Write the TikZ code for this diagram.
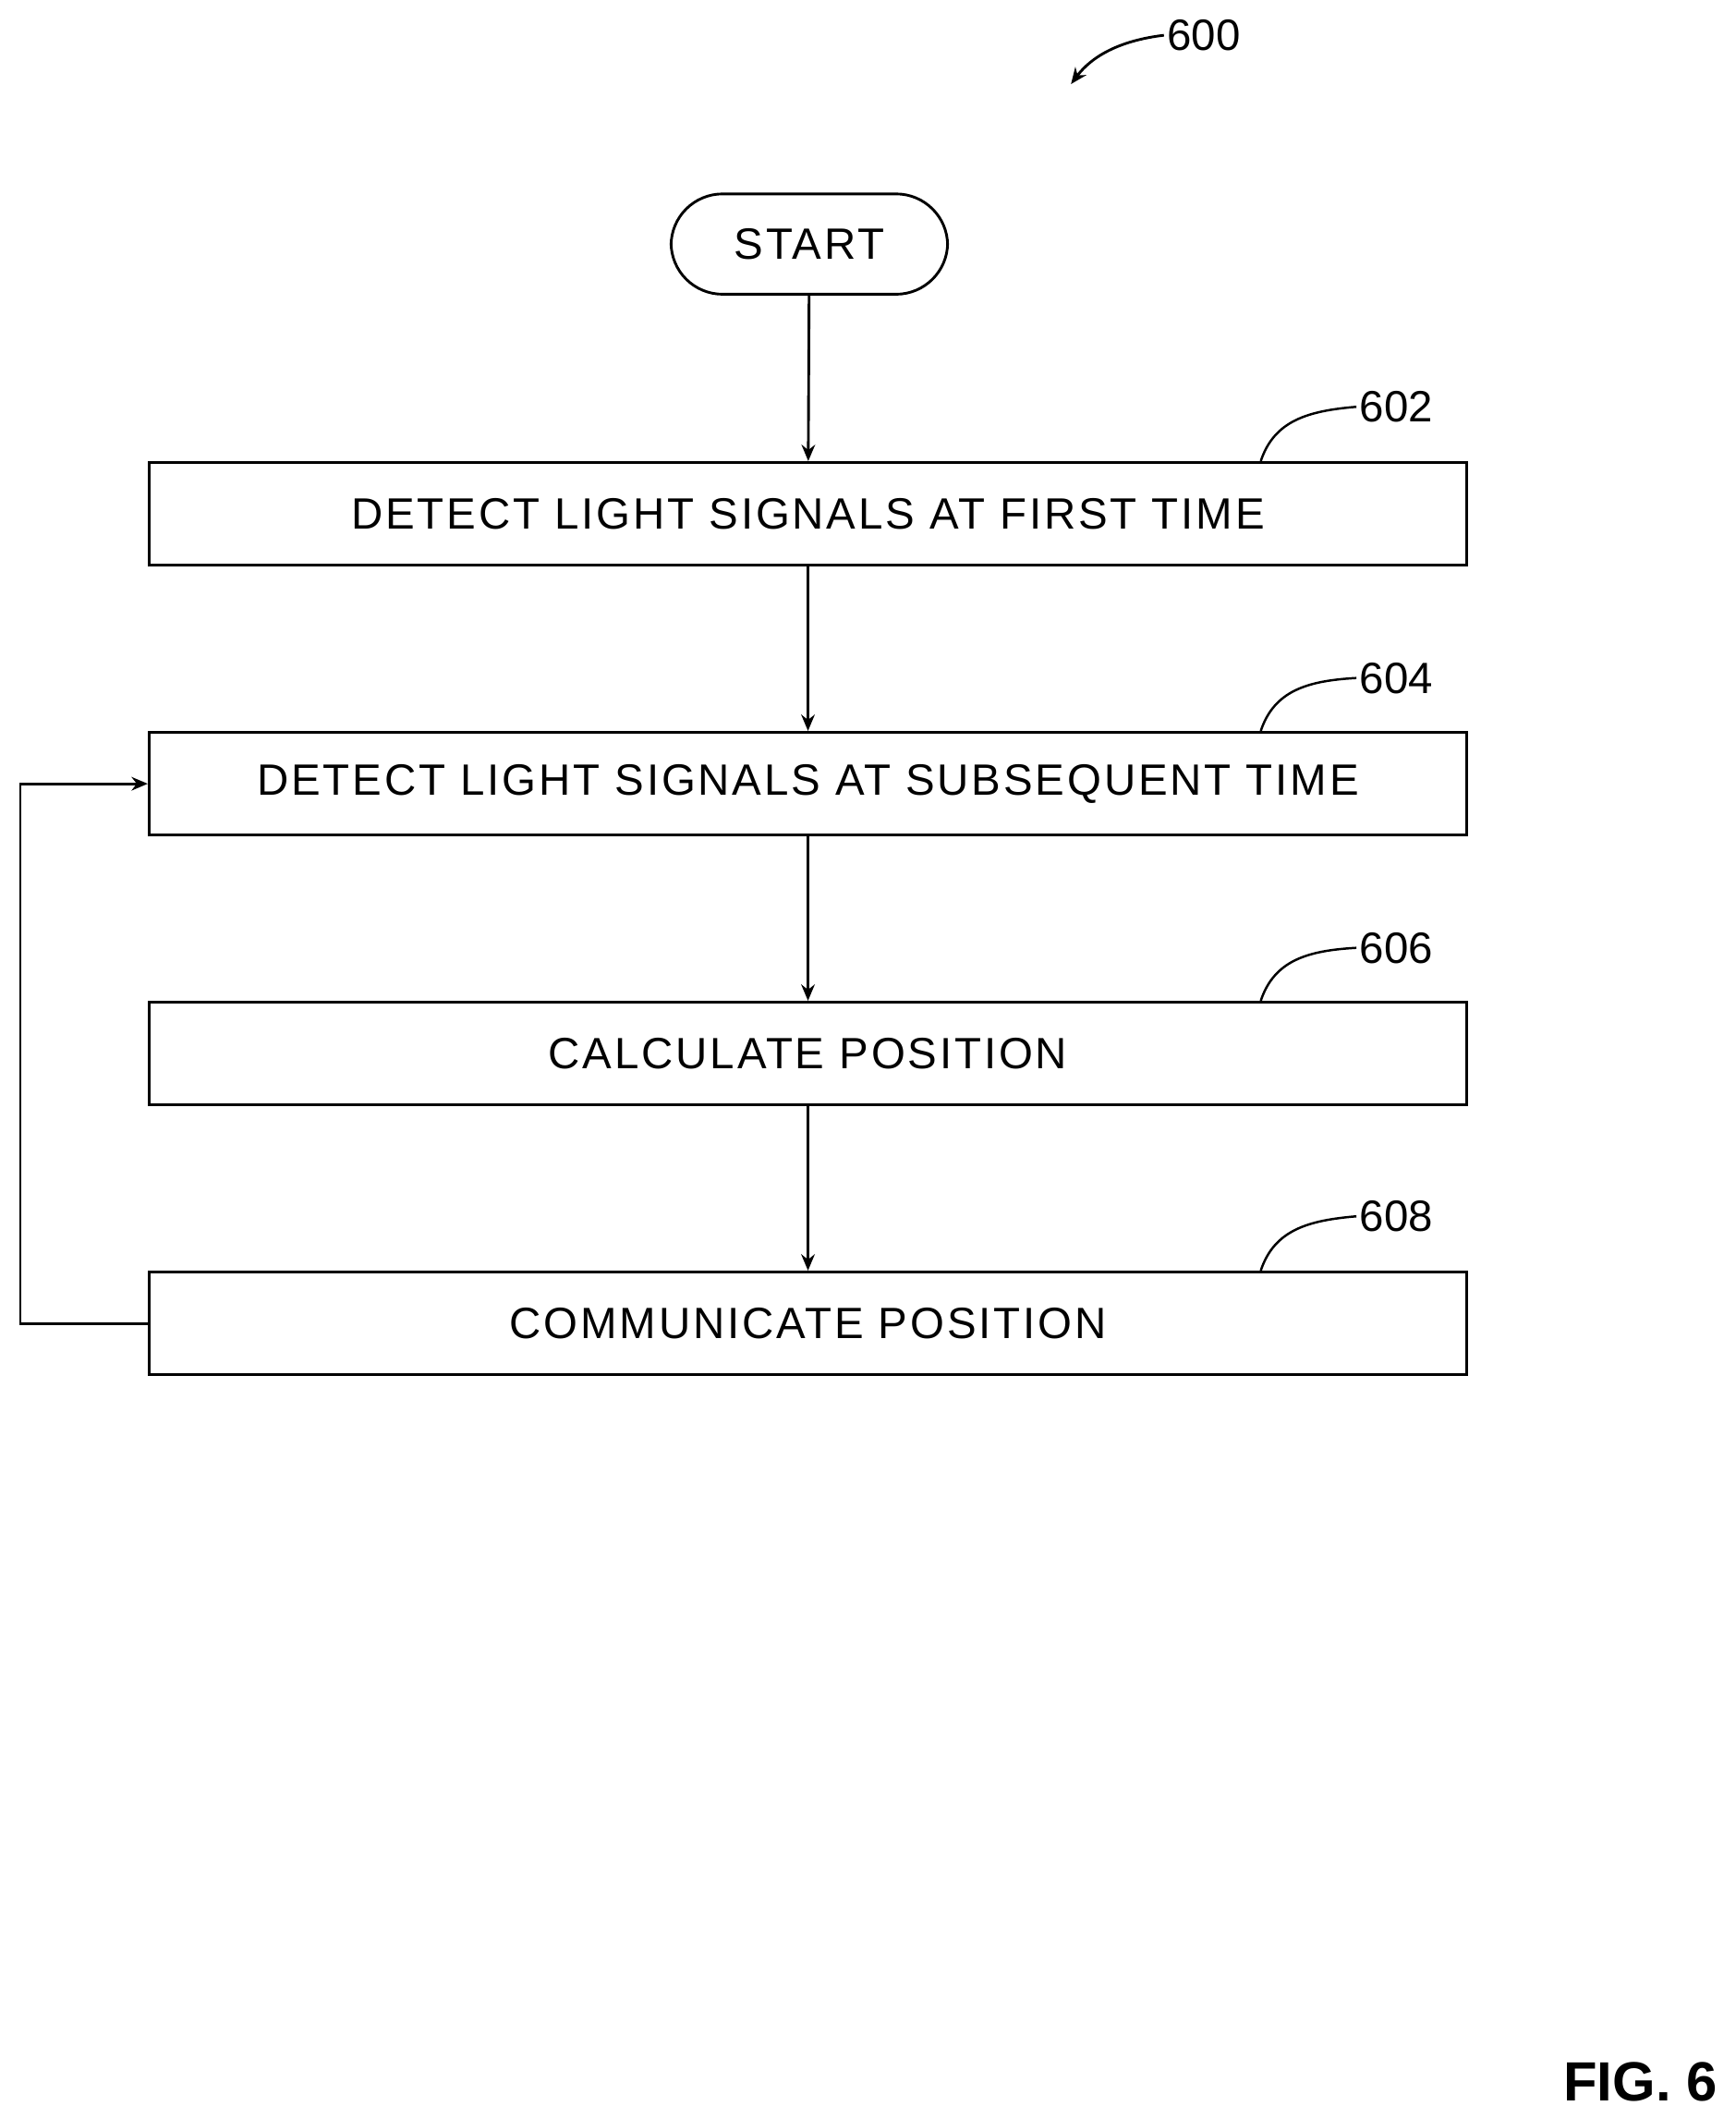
\documentclass[tikz,border=0pt]{standalone}
\usepackage{fontspec}
\setmainfont{Liberation Sans}
\newfontfamily\spaced[LetterSpace=6]{Liberation Sans}
\usetikzlibrary{arrows.meta}
\begin{document}
\begin{tikzpicture}[x=0.05cm,y=-0.05cm,
  box/.style={draw, line width=2.8pt, minimum width=972*0.05cm, minimum height=76*0.05cm, font=\spaced\fontsize{46}{54}\selectfont, inner sep=0pt},
  lbl/.style={font=\fontsize{46}{54}\selectfont},
  arr/.style={line width=2.8pt, -{Stealth[length=0.6cm,width=0.5cm]}},
  lead/.style={line width=2.4pt}]
\useasboundingbox (0,0) rectangle (1280,1562);
\node[draw, line width=2.8pt, rounded corners=1.9cm, minimum width=204*0.05cm, minimum height=74*0.05cm, font=\spaced\fontsize{46}{54}\selectfont] (start) at (597,180) {START};
\node[box] (b1) at (596,379) {DETECT LIGHT SIGNALS AT FIRST TIME};
\node[box] (b2) at (596,578) {DETECT LIGHT SIGNALS AT SUBSEQUENT TIME};
\node[box] (b3) at (596,777) {CALCULATE POSITION};
\node[box] (b4) at (596,976) {COMMUNICATE POSITION};
\draw[arr] (start) -- (b1);
\draw[arr] (b1) -- (b2);
\draw[arr] (b2) -- (b3);
\draw[arr] (b3) -- (b4);
\coordinate (fb) at (15,976);
\draw[arr] (b4.west) -- (fb) |- (b2.west);
\node[lbl] (l602) at (1030,300) {602};
\node[lbl] (l604) at (1030,500) {604};
\node[lbl] (l606) at (1030,699) {606};
\node[lbl] (l608) at (1030,897) {608};
\draw[lead] (930,340) .. controls (940,310) and (965,303) .. (l602.west);
\draw[lead] (930,539) .. controls (940,509) and (965,502) .. (l604.west);
\draw[lead] (930,738) .. controls (940,708) and (965,701) .. (l606.west);
\draw[lead] (930,937) .. controls (940,907) and (965,900) .. (l608.west);
\node[lbl] (l600) at (888,26) {600};
\draw[arr] (l600.west) .. controls (825,30) and (805,42) .. (790,62);
\node[font=\bfseries\fontsize{58}{66}\selectfont] (fig) at (1210,1535) {FIG. 6};
\end{tikzpicture}
\end{document}
